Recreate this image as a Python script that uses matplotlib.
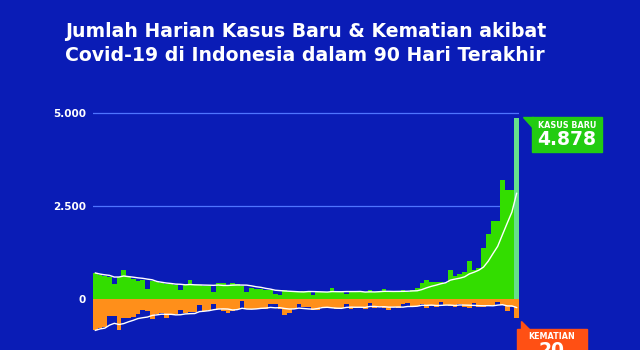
import numpy as np
import pandas as pd
import matplotlib
matplotlib.use("Agg")
import matplotlib.pyplot as plt
from matplotlib.patches import Rectangle, Polygon

# Kasus baru harian (90 hari terakhir)
kasus = [700, 640, 610, 590, 410, 600, 780, 580, 540, 480,
         500, 260, 480, 460, 430, 400, 390, 380, 230, 380,
         520, 370, 380, 360, 360, 200, 440, 440, 370, 440,
         390, 340, 190, 300, 270, 260, 250, 250, 130, 120,
         230, 220, 210, 200, 220, 210, 110, 200, 190, 180,
         290, 200, 200, 140, 200, 190, 200, 180, 240, 180,
         190, 260, 190, 180, 190, 250, 200, 250, 290, 420,
         510, 470, 470, 460, 440, 780, 620, 680, 720, 1020,
         780, 820, 1360, 1740, 2100, 2100, 3200, 2930, 2930, 4878]

# Kematian harian
kematian = [33, 30, 29, 18, 18, 33, 20, 20, 19, 16,
            12, 13, 21, 16, 15, 20, 16, 16, 12, 15,
            14, 14, 6, 13, 12, 5, 10, 13, 15, 13,
            10, 2, 11, 11, 11, 11, 11, 5, 5, 10,
            17, 15, 10, 5, 8, 8, 12, 12, 8, 8,
            9, 11, 9, 5, 10, 9, 8, 10, 4, 9,
            8, 9, 12, 8, 9, 5, 4, 8, 7, 5,
            9, 7, 8, 3, 6, 7, 8, 5, 8, 9,
            4, 8, 8, 7, 6, 3, 6, 13, 8, 20]

yticks = [0, 2500, 5000]
ytick_labels = ["0", "2.500", "5.000"]

BG = "#0a1cb6"
HIJAU = "#33dd00"
HIJAU_AKHIR = "#66e08c"
ORANYE = "#ff8f1a"
MERAH = "#ff5014"
GRID = "#4f74ff"
FONT = "DejaVu Sans"

# rata-rata 7 hari
hari = np.arange(len(kasus))
ma_kasus = pd.Series(kasus).rolling(7, min_periods=1).mean()
ma_kematian = pd.Series(kematian).rolling(7, min_periods=1).mean()

W, H = 640, 350
fig = plt.figure(figsize=(W / 100, H / 100), dpi=100)
fig.patch.set_facecolor(BG)

def fx(px):
    return px / W

def fy(py):
    return 1 - py / H

# skala: 2.500 kasus = 93 px, 20 kematian = 19 px
px_kasus = 2500 / 93
k = 19 * px_kasus / 20
ylim = (-(H - 299) * px_kasus, (299 - 100) * px_kasus)

ax = fig.add_axes([fx(93), 0, (519 - 93) / W, (H - 100) / H])
ax.set_facecolor(BG)
ax.set_xlim(-0.5, len(kasus) - 0.5)
ax.set_ylim(*ylim)

warna = [HIJAU] * (len(kasus) - 1) + [HIJAU_AKHIR]
ax.bar(hari, kasus, width=1.0, color=warna, linewidth=0, zorder=2)
ax.plot(hari, ma_kasus, color="white", lw=1.0, zorder=3)

ax2 = fig.add_axes(ax.get_position(), sharex=ax)
ax2.patch.set_visible(False)
ax2.set_ylim(ylim[0] / k, ylim[1] / k)
ax2.bar(hari, -np.array(kematian), width=1.0, color=ORANYE, linewidth=0, zorder=2)
ax2.plot(hari, -ma_kematian, color="white", lw=1.0, zorder=3)
ax2.axis("off")

for v in yticks[1:]:
    ax.axhline(v, color=GRID, lw=0.9, zorder=1)
ax.set_yticks(yticks)
ax.set_yticklabels(ytick_labels, color="white", fontsize=7.5,
                   fontweight="bold", family=FONT)
ax.tick_params(axis="y", length=0, pad=5)
ax.set_xticks([])
for s in ax.spines.values():
    s.set_visible(False)

# judul
judul = ["Jumlah Harian Kasus Baru & Kematian akibat",
         "Covid-19 di Indonesia dalam 90 Hari Terakhir"]
for baris, py in zip(judul, [37, 61]):
    fig.text(fx(65), fy(py), baris, color="white", fontsize=13.6,
             fontweight="bold", family=FONT, va="baseline", ha="left")

# label kasus baru
fig.patches.append(Polygon([(fx(523), fy(117)), (fx(533), fy(117)), (fx(533), fy(128))],
                           closed=True, transform=fig.transFigure, color="#22cc11"))
fig.patches.append(Rectangle((fx(532), fy(152)), (602 - 532) / W, 35 / H,
                             transform=fig.transFigure, color="#22cc11"))
fig.text(fx(567), fy(125), "KASUS BARU", color="white", fontsize=5.8,
         fontweight="bold", family=FONT, ha="center", va="center")
fig.text(fx(567), fy(139.5), f"{kasus[-1]:,}".replace(",", "."), color="white",
         fontsize=13.5, fontweight="bold", family=FONT, ha="center", va="center")

# label kematian
fig.patches.append(Polygon([(fx(521), fy(321)), (fx(521), fy(330)), (fx(530), fy(330))],
                           closed=True, transform=fig.transFigure, color=MERAH))
fig.patches.append(Rectangle((fx(517), fy(365)), (587 - 517) / W, 36 / H,
                             transform=fig.transFigure, color=MERAH))
fig.text(fx(552), fy(336.5), "KEMATIAN", color="white", fontsize=5.8,
         fontweight="bold", family=FONT, ha="center", va="center")
fig.text(fx(552), fy(351), str(kematian[-1]), color="white",
         fontsize=13.5, fontweight="bold", family=FONT, ha="center", va="center")

fig.savefig("out.png", dpi=100, facecolor=BG)
